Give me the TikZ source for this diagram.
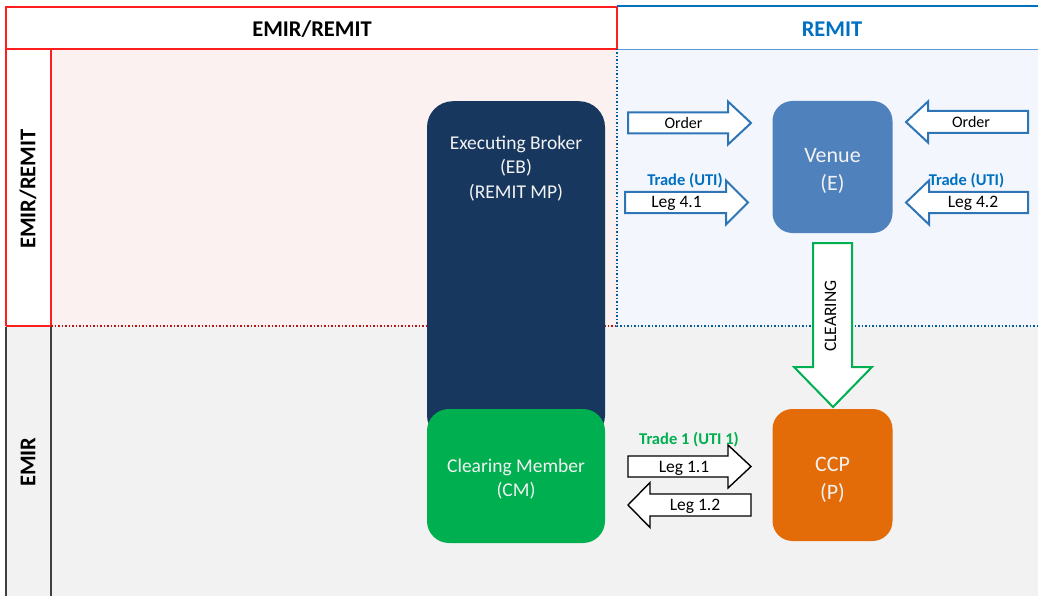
\documentclass[tikz,border=0pt]{standalone}
\usepackage{fontspec}
\setmainfont{Carlito}
\definecolor{navy}{RGB}{23,55,94}
\definecolor{cmgreen}{RGB}{0,176,80}
\definecolor{venueblue}{RGB}{79,129,189}
\definecolor{ccporange}{RGB}{227,108,9}
\definecolor{remitblue}{RGB}{0,112,192}
\definecolor{arrblue}{RGB}{46,117,182}
\definecolor{hdrblue}{RGB}{91,155,213}
\definecolor{pinkbg}{RGB}{251,241,240}
\definecolor{bluebg}{RGB}{243,247,253}
\definecolor{graybg}{RGB}{242,242,242}
\definecolor{linegray}{RGB}{64,64,64}
\definecolor{redline}{RGB}{255,30,30}
\definecolor{boxtext}{RGB}{242,242,242}
\newcommand\blkarrow[7][]{%
  \draw[#1] (#2,#5-#6) -- (#3,#5-#6) -- (#3,#5-#7) -- (#4,#5) -- (#3,#5+#7) -- (#3,#5+#6) -- (#2,#5+#6) -- cycle;}
\begin{document}
\begin{tikzpicture}[x=1pt,y=-1pt,
  hdr/.style={font=\fontsize{22.5}{27}\selectfont\bfseries, inner sep=0pt},
  redl/.style={draw=redline, line width=1.5},
  box/.style={inner sep=0pt, text=boxtext, align=center, font=\fontsize{19.5}{24.5}\selectfont},
  bigbox/.style={box, font=\fontsize{22}{28}\selectfont, minimum width=120, minimum height=132, rounded corners=20},
  lbl/.style={inner sep=0pt, text height=0.64em, text depth=0pt},
  ordlbl/.style={lbl, font=\fontsize{16}{19}\selectfont},
  leglbl/.style={lbl, font=\fontsize{17.5}{21}\selectfont},
  tradelbl/.style={lbl, font=\fontsize{16.5}{20}\selectfont\bfseries},
  bluearr/.style={draw=arrblue, fill=white, line width=2},
  blackarr/.style={draw=black, fill=white, line width=1.4},
  greenarr/.style={draw=cmgreen, fill=white, line width=2}]
\useasboundingbox (0,0) rectangle (1038,596);
% backgrounds
\fill[pinkbg] (51,49) rectangle (617,326);
\fill[bluebg] (617,49) rectangle (1038,326);
\fill[graybg] (6,326) rectangle (1038,596);
% table lines
\draw[redl] (6,326) -- (6,7) -- (617,7) -- (617,49);
\draw[redl] (6,49) -- (617,49);
\draw[redl] (51,49) -- (51,326);
\draw[draw=redline, line width=2.2] (6,326) -- (51,326);
\draw[draw=redline!70!black, line width=1.5, dotted] (51,326) -- (617,326);
\draw[draw=remitblue, line width=2] (617,6.5) -- (1038,6.5);
\draw[draw=hdrblue, line width=1.5] (617,49.5) -- (1038,49.5);
\draw[draw=remitblue!80!black, line width=1.5, dotted] (617,49) -- (617,326) -- (1038,326);
\draw[draw=linegray, line width=1.5] (6,327) -- (6,596);
\draw[draw=linegray, line width=1.5] (51,327) -- (51,596);
% headers
\node[hdr] (h1) at (312,29.5) {EMIR/REMIT};
\node[hdr, text=remitblue] (h2) at (832,29.5) {REMIT};
\node[hdr, rotate=90] (r1) at (28,189) {EMIR/REMIT};
\node[hdr, rotate=90] (r2) at (28,462) {EMIR};
% boxes
\node[box, fill=navy, minimum width=178, minimum height=340, rounded corners=26, anchor=north] (eb) at (516,101) {};
\node[box] (ebt) at (516,168.5) {Executing Broker\\(EB)\\(REMIT MP)};
\node[box, fill=cmgreen, minimum width=178, minimum height=134, rounded corners=22] (cm) at (516,476) {};
\node[box] (cmt) at (516,479) {Clearing Member\\(CM)};
\node[bigbox, fill=venueblue] (venue) at (832.5,167) {};
\node[box, font=\fontsize{22}{28}\selectfont] (venuet) at (832.5,171) {Venue\\(E)};
\node[bigbox, fill=ccporange] (ccp) at (832.5,475) {};
\node[box, font=\fontsize{22}{28}\selectfont] (ccpt) at (832.5,479.5) {CCP\\(P)};
% clearing arrow
\draw[greenarr] (813,243) -- (852,243) -- (852,367) -- (872,367) -- (833,407) -- (794,367) -- (813,367) -- cycle;
\node[lbl, rotate=90, font=\fontsize{17.5}{21}\selectfont] (clr) at (833,316) {CLEARING};
% block arrows
\blkarrow[bluearr]{628}{728}{751}{123}{10.5}{21.5}
\blkarrow[bluearr]{1028}{928}{906}{122}{11}{20.5}
\blkarrow[bluearr]{625}{726}{748}{202.5}{10.5}{22}
\blkarrow[bluearr]{1028}{929}{906}{202.5}{10.5}{22}
\blkarrow[blackarr]{628}{728}{751}{466.5}{10.5}{21.5}
\blkarrow[blackarr]{751}{650}{628}{505}{11}{22.5}
% labels
\node[ordlbl] (o1) at (683.5,125) {Order};
\node[ordlbl] (o2) at (971,124) {Order};
\node[leglbl] (l41) at (676.5,204) {Leg 4.1};
\node[leglbl] (l42) at (973,204) {Leg 4.2};
\node[tradelbl, text=remitblue] (t1) at (685,182) {Trade (UTI)};
\node[tradelbl, text=remitblue] (t2) at (966.5,182) {Trade (UTI)};
\node[leglbl] (l11) at (684,469) {Leg 1.1};
\node[leglbl] (l12) at (695,507) {Leg 1.2};
\node[tradelbl, text=cmgreen] (t3) at (689,441) {Trade 1 (UTI 1)};
\end{tikzpicture}
\end{document}
